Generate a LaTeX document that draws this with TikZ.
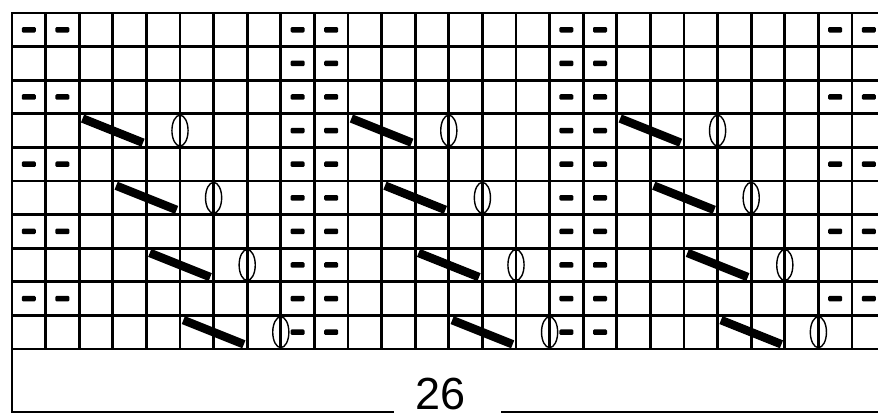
\documentclass[tikz,border=0pt]{standalone}
\usepackage{fontspec}
\setmainfont{Liberation Sans}
\usetikzlibrary{positioning,calc}
\tikzset{
	rule/.style={draw=black,line width=2.9pt,line cap=rect},
	purl/.style={fill=black,rounded corners=1.2pt,minimum width=14pt,minimum height=5.5pt,inner sep=0pt},
	slip/.style={draw=black,line width=8.5pt},
	yo/.style={draw=black,line width=1.4pt},
	count/.style={font=\fontsize{45}{45}\selectfont,inner sep=0pt,anchor=base},
}
\begin{document}
\begin{tikzpicture}[x=33.6pt,y=33.6pt]
	\useasboundingbox (-0.357,-1.935) rectangle (25.774,10.387);
	% grid
	\foreach \i in {0,...,26}
	\draw[rule] (\i,0) -- (\i,10);
	\foreach \j in {0,...,10}
	\draw[rule] (0,\j) -- (26,\j);
	% purl stitches
	\foreach \r in {9,7,5,3,1}
	\foreach \c in {0,1,8,9,16,17,24,25}
	\node[purl] (p-\r-\c) at (\c+0.5,\r+0.5) {};
	\foreach \r in {8,6,4,2,0}
	\foreach \c in {8,9,16,17}
	\node[purl] (p-\r-\c) at (\c+0.5,\r+0.5) {};
	% slipped stitches and yarn overs
	\foreach \k in {0,1,2,3}
	\foreach \m in {0,8,16}{
		\pgfmathsetmacro{\r}{6-2*\k}
		\pgfmathsetmacro{\s}{2+\k+\m}
		\draw[slip] (\s+0.1,\r+0.86) -- (\s+1.9,\r+0.14);
		\draw[yo] (\s+3,\r+0.5) ellipse [x radius=0.24,y radius=0.46];
	}
	% stitch count box
	\node[count] (total) at (12.74,-1.8) {26};
	\coordinate (box-sw) at (0,-1.875);
	\coordinate (gap-l) at (11.34,-1.875);
	\coordinate (gap-r) at (14.61,-1.875);
	\coordinate (box-se) at (26,-1.875);
	\draw[rule] (0,0) -- (box-sw) -- (gap-l);
	\draw[rule] (gap-r) -- (box-se);
\end{tikzpicture}
\end{document}
